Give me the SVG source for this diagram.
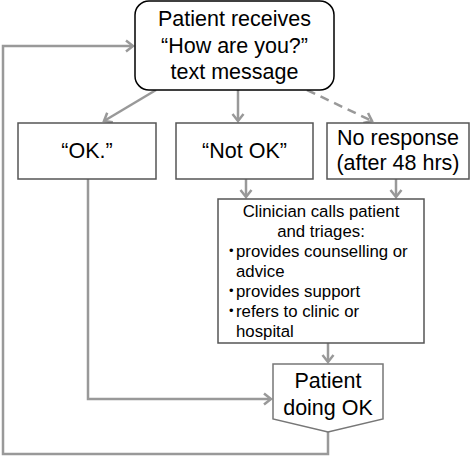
<svg xmlns="http://www.w3.org/2000/svg" width="472" height="456" viewBox="0 0 472 456">
<style>
.t{font-family:"Liberation Sans",Arial,sans-serif;fill:#000}
.big{font-size:21.5px}
.sm{font-size:16.8px}
.b{font-size:13px}
.c{fill:none;stroke:#999;stroke-width:2.5}
.box{fill:#fff;stroke:#555;stroke-width:1.5}
</style>
<defs>
<marker id="ah" markerUnits="userSpaceOnUse" markerWidth="20" markerHeight="20" refX="10" refY="10" orient="auto" overflow="visible">
<path d="M3,4.5 L10,10 L3,15.5" fill="none" stroke="#999" stroke-width="2.5"/>
</marker>
</defs>
<g id="connectors">
<path class="c" d="M328,432 V454 H3 V46 H133" marker-end="url(#ah)"/>
<path class="c" d="M156,90 L104,121" marker-end="url(#ah)"/>
<path class="c" d="M238,90 V121" marker-end="url(#ah)"/>
<path class="c" d="M307,90 L372,121" stroke-dasharray="9,6" marker-end="url(#ah)"/>
<path class="c" d="M246,179 V197" marker-end="url(#ah)"/>
<path class="c" d="M396,179 V197" marker-end="url(#ah)"/>
<path class="c" d="M328,343 V362" marker-end="url(#ah)"/>
<path class="c" d="M88,179 V399 H271" marker-end="url(#ah)"/>
</g>
<g id="start">
<rect x="135" y="1" width="199" height="89" rx="14" fill="#fff" stroke="#000" stroke-width="1.5"/>
<text class="t big" text-anchor="middle" x="234.5" y="26">Patient receives</text>
<text class="t big" text-anchor="middle" x="234.5" y="53">“How are you?”</text>
<text class="t big" text-anchor="middle" x="234.5" y="79">text message</text>
</g>
<g id="ok">
<rect class="box" x="18" y="123" width="138" height="56"/>
<text class="t big" text-anchor="middle" x="87" y="158">“OK.”</text>
</g>
<g id="notok">
<rect class="box" x="176" y="123" width="137" height="56"/>
<text class="t big" text-anchor="middle" x="244.5" y="158">“Not OK”</text>
</g>
<g id="noresponse">
<rect class="box" x="327" y="123" width="142" height="56"/>
<text class="t big" text-anchor="middle" x="398" y="145">No response</text>
<text class="t big" text-anchor="middle" x="398" y="170">(after 48 hrs)</text>
</g>
<g id="clinician">
<rect class="box" x="218" y="199" width="206" height="144"/>
<text class="t sm" text-anchor="middle" x="321" y="217">Clinician calls patient</text>
<text class="t sm" text-anchor="middle" x="321" y="237">and triages:</text>
<text class="t b" x="229" y="255">•</text>
<text class="t sm" x="236" y="257">provides counselling or</text>
<text class="t sm" x="236" y="277">advice</text>
<text class="t b" x="229" y="295">•</text>
<text class="t sm" x="236" y="297">provides support</text>
<text class="t b" x="229" y="315">•</text>
<text class="t sm" x="236" y="317">refers to clinic or</text>
<text class="t sm" x="236" y="337">hospital</text>
</g>
<g id="doingok">
<polygon points="273,364 383,364 383,419 328,432 273,419" fill="#fff" stroke="#777" stroke-width="1.5"/>
<text class="t big" text-anchor="middle" x="328" y="388">Patient</text>
<text class="t big" text-anchor="middle" x="328" y="415">doing OK</text>
</g>
</svg>
